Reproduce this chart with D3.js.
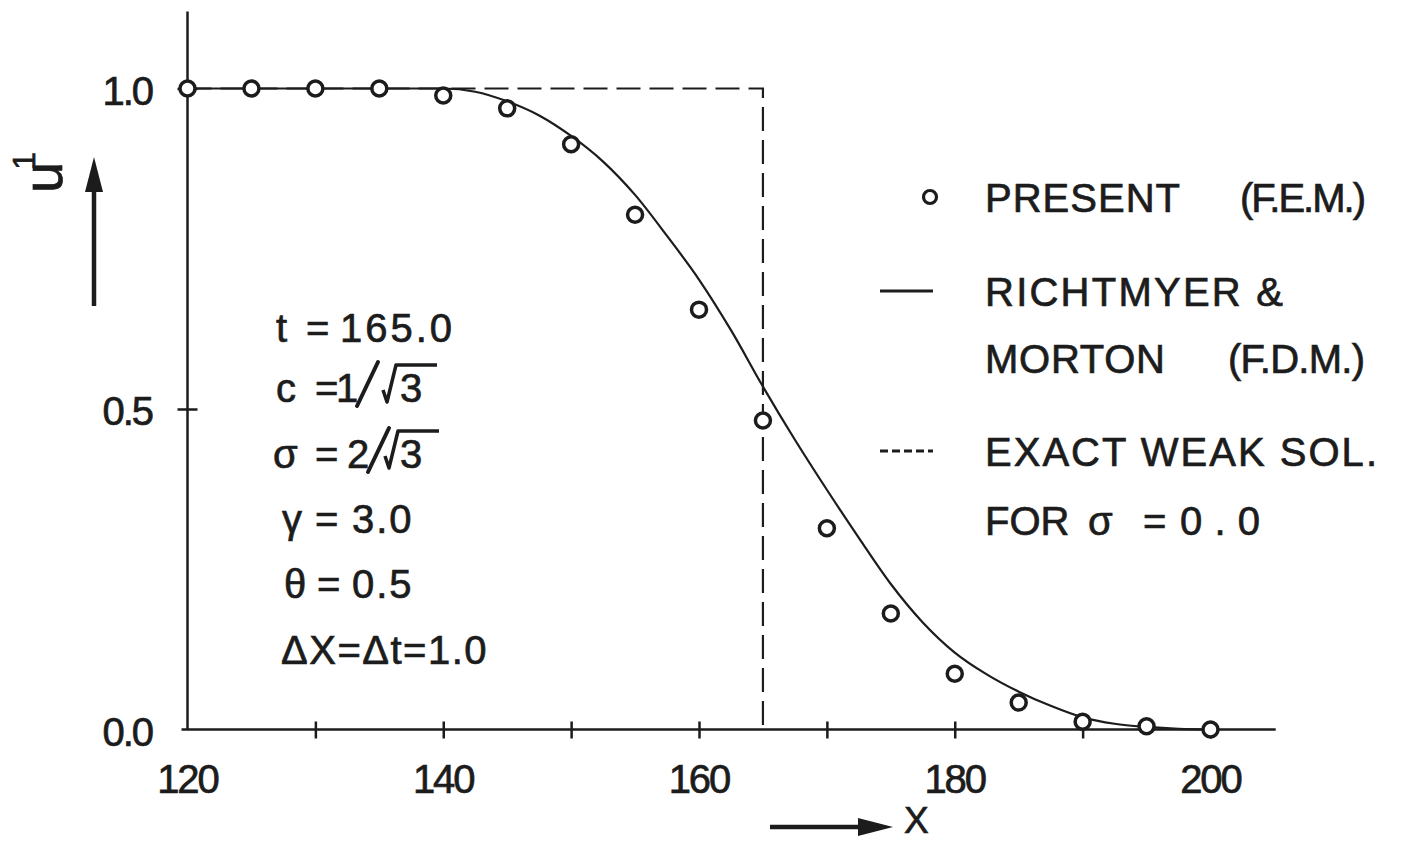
<!DOCTYPE html>
<html>
<head>
<meta charset="utf-8">
<script src="https://cdn.jsdelivr.net/npm/d3@7"></script>
<style>
  body { margin: 0; background: #fff; }
  svg { display: block; }
  text { font-family: "Liberation Sans", Arial, sans-serif; fill: #1c1c1c; stroke: #1c1c1c; stroke-width: 0.7px; }
</style>
</head>
<body>
<svg id="chart" width="1403" height="842"></svg>
<script>
// Finite element solution (circles), sampled every 5 units of X
const femX = [120, 125, 130, 135, 140, 145, 150, 155, 160, 165, 170, 175, 180, 185, 190, 195, 200];
const femU = [1.0, 1.0, 1.0, 1.0, 0.989, 0.969, 0.913, 0.803, 0.655, 0.482, 0.314, 0.181, 0.087, 0.042, 0.012, 0.005, 0.0];

// Richtmyer & Morton finite difference solution (solid curve)
const fdmX = [120, 130, 140, 142.5, 145, 147.5, 150, 152.5, 155, 157.5, 160, 162.5, 165, 167.5, 170, 172.5, 175, 177.5, 180, 182.5, 185, 187.5, 190, 192.5, 195, 197.5, 200];
const fdmU = [1.0, 1.0, 1.0, 0.995, 0.980, 0.958, 0.926, 0.886, 0.834, 0.770, 0.702, 0.623, 0.535, 0.452, 0.374, 0.299, 0.227, 0.167, 0.120, 0.086, 0.059, 0.037, 0.019, 0.009, 0.004, 0.001, 0.0];

// Exact weak solution for sigma = 0 (shock at X = 165)
const exactX = [120, 165, 165];
const exactU = [1.0, 1.0, 0.0];

// Axis ticks and labels
const xTickValues = [130, 140, 150, 160, 170, 180, 190, 200];
const xTickLabels = [120, 140, 160, 180, 200];
const yTickValues = [0.5, 1.0];
const yTickLabels = [0.0, 0.5, 1.0];

const INK = "#1c1c1c";
const svg = d3.select("#chart");

const x = d3.scaleLinear().domain([120, 200]).range([187.5, 1210.5]);
const y = d3.scaleLinear().domain([0, 1]).range([729.5, 88.5]);

// ---- axes ----
const xAxisG = svg.append("g").attr("transform", `translate(0,${y(0)})`)
  .call(d3.axisBottom(x).tickValues(xTickValues).tickFormat("").tickSizeOuter(0));
xAxisG.select(".domain").remove();
xAxisG.selectAll(".tick line").attr("y1", -8).attr("y2", 9)
  .attr("stroke", INK).attr("stroke-width", 2.5);

svg.append("g").selectAll("text").data(xTickLabels).join("text")
  .attr("x", d => x(d)).attr("y", y(0) + 63)
  .attr("text-anchor", "middle").attr("font-size", 40).attr("letter-spacing", -2)
  .text(d => d);

const yAxisG = svg.append("g").attr("transform", `translate(${x(120)},0)`)
  .call(d3.axisLeft(y).tickValues(yTickValues).tickFormat("").tickSizeOuter(0));
yAxisG.select(".domain").remove();
yAxisG.selectAll(".tick line").attr("x1", -10).attr("x2", 10)
  .attr("stroke", INK).attr("stroke-width", 2.5);

svg.append("g").selectAll("text").data(yTickLabels).join("text")
  .attr("x", 152).attr("y", d => y(d) + 16)
  .attr("text-anchor", "end").attr("font-size", 40).attr("letter-spacing", -2)
  .text(d => d.toFixed(1));

// axis lines
svg.append("line").attr("x1", x(120) - 6).attr("x2", x(205.1))
  .attr("y1", y(0)).attr("y2", y(0)).attr("stroke", INK).attr("stroke-width", 2.5);
svg.append("line").attr("x1", x(120)).attr("x2", x(120))
  .attr("y1", y(0)).attr("y2", y(1.12)).attr("stroke", INK).attr("stroke-width", 2.5);

// ---- series ----
const exactLine = d3.line().x((d, i) => x(exactX[i])).y((d, i) => y(exactU[i]));
svg.append("path").datum(exactX).attr("d", exactLine)
  .attr("fill", "none").attr("stroke", INK).attr("stroke-width", 2.2)
  .attr("stroke-dasharray", "24,9");

const fdmLine = d3.line().curve(d3.curveMonotoneX)
  .x((d, i) => x(fdmX[i])).y((d, i) => y(fdmU[i]));
svg.append("path").datum(fdmX).attr("d", fdmLine)
  .attr("fill", "none").attr("stroke", INK).attr("stroke-width", 2.2);

svg.append("g").selectAll("circle").data(femX).join("circle")
  .attr("cx", d => x(d)).attr("cy", (d, i) => y(femU[i]))
  .attr("r", 7.5).attr("fill", "#fff").attr("stroke", INK).attr("stroke-width", 3.5);

// ---- axis titles with arrows ----
const yl = svg.append("text").attr("transform", "translate(62,193) rotate(-90)")
  .attr("font-size", 56);
yl.append("tspan").text("u");
yl.append("tspan").attr("font-size", 32).attr("dx", -8).attr("dy", -27).text("1");

svg.append("line").attr("x1", 94).attr("x2", 94).attr("y1", 306).attr("y2", 185)
  .attr("stroke", INK).attr("stroke-width", 4.5);
svg.append("path").attr("d", "M94,157 L85,192 L103,192 Z").attr("fill", INK);

svg.append("line").attr("x1", 770).attr("x2", 865).attr("y1", 827).attr("y2", 827)
  .attr("stroke", INK).attr("stroke-width", 4.5);
svg.append("path").attr("d", "M893,827 L858,818 L858,836 Z").attr("fill", INK);
svg.append("text").attr("x", 904).attr("y", 833).attr("font-size", 37).text("X");

// ---- parameter block ----
const paramRows = [
  { b: 342, parts: [["t", 276], ["=", 306], ["165.0", 340, 3]] },
  { b: 402, parts: [["c", 276], ["=", 315], ["1", 336], ["3", 400]], root: { slash: 357, tick: 383 } },
  { b: 468, parts: [["σ", 273], ["=", 315], ["2", 347], ["3", 400]], root: { slash: 368, tick: 385 } },
  { b: 533, parts: [["γ", 282], ["=", 315], ["3.0", 352, 2]] },
  { b: 598, parts: [["θ", 284], ["=", 317], ["0.5", 352, 2]] },
  { b: 664, parts: [["ΔX=Δt=1.0", 281, 1.5]] }
];
paramRows.forEach(row => {
  const t = svg.append("text").attr("y", row.b).attr("font-size", 40);
  row.parts.forEach(([s, px, ls]) => {
    const sp = t.append("tspan").attr("x", px).text(s);
    if (ls) sp.attr("letter-spacing", ls);
  });
  if (row.root) {
    const r = row.root, b = row.b;
    // slanted fraction bar
    svg.append("line").attr("x1", r.slash).attr("y1", b + 4)
      .attr("x2", r.slash + 21).attr("y2", b - 40)
      .attr("stroke", INK).attr("stroke-width", 4).attr("stroke-linecap", "round");
    // radical sign with vinculum over the 3
    svg.append("path")
      .attr("d", `M${r.tick},${b - 12} L${r.tick + 4},${b} L${r.tick + 13},${b - 37} L${r.tick + 54},${b - 37}`)
      .attr("fill", "none").attr("stroke", INK).attr("stroke-width", 3.5)
      .attr("stroke-linejoin", "round");
  }
});

// ---- legend ----
svg.append("circle").attr("cx", 930).attr("cy", 197).attr("r", 6.5)
  .attr("fill", "#fff").attr("stroke", INK).attr("stroke-width", 3.2);
svg.append("line").attr("x1", 880).attr("x2", 933).attr("y1", 291).attr("y2", 291)
  .attr("stroke", INK).attr("stroke-width", 3);
svg.append("line").attr("x1", 880).attr("x2", 933).attr("y1", 451).attr("y2", 451)
  .attr("stroke", INK).attr("stroke-width", 3).attr("stroke-dasharray", "8,4");

const legendText = [
  ["PRESENT", 985, 212, 195],
  ["(F.E.M.)", 1240, 212, 126],
  ["RICHTMYER &", 985, 306, 298],
  ["MORTON", 985, 373, 180],
  ["(F.D.M.)", 1228, 373, 137],
  ["EXACT WEAK SOL.", 985, 466, 392],
  ["FOR", 985, 535, 0],
  ["σ", 1088, 535, 0],
  ["=", 1143, 535, 0],
  ["0.0", 1180, 535, 80]
];
legendText.forEach(([s, px, py, len]) => {
  const t = svg.append("text").attr("x", px).attr("y", py).attr("font-size", 40).text(s);
  if (len) t.attr("textLength", len).attr("lengthAdjust", "spacing");
});
</script>
</body>
</html>
